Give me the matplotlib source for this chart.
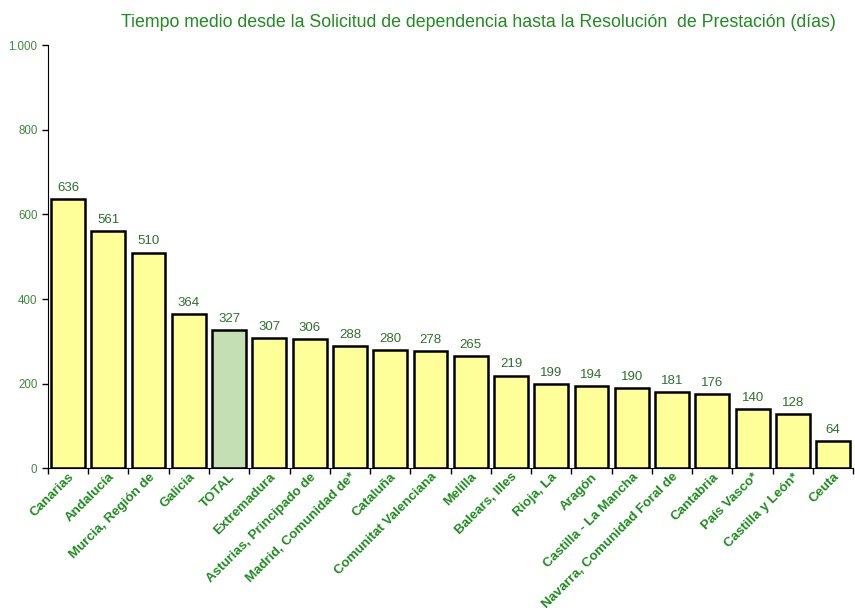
import matplotlib
matplotlib.use("Agg")
import matplotlib.pyplot as plt
import numpy as np
from matplotlib.ticker import FuncFormatter, FixedLocator

plt.rcParams["font.family"] = ["Liberation Sans", "DejaVu Sans"]

regions = ["Canarias", "Andalucía", "Murcia, Región de", "Galicia", "TOTAL",
           "Extremadura", "Asturias, Principado de", "Madrid, Comunidad de*",
           "Cataluña", "Comunitat Valenciana", "Melilla", "Balears, Illes",
           "Rioja, La", "Aragón", "Castilla - La Mancha",
           "Navarra, Comunidad Foral de", "Cantabria", "País Vasco*",
           "Castilla y León*", "Ceuta"]
days = [636, 561, 510, 364, 327, 307, 306, 288, 280, 278, 265, 219,
        199, 194, 190, 181, 176, 140, 128, 64]

GREEN = "#1e8c1e"
TICK_GREEN = "#3c8a3c"
VALUE_GREEN = "#2f6f2f"
BAR = "#ffff99"
TOTAL_BAR = "#c4dfb4"

fig = plt.figure(figsize=(8.55, 6.12), dpi=100)
ax = fig.add_axes([0.056, 0.235, 0.942, 0.691])

x = np.arange(len(regions))
colors = [TOTAL_BAR if r == "TOTAL" else BAR for r in regions]
ax.bar(x, days, width=0.84, color=colors, edgecolor="black", linewidth=1.8)

for xi, v in zip(x, days):
    ax.text(xi, v + 12, str(v), ha="center", va="bottom", fontsize=9.5,
            color=VALUE_GREEN)

ax.set_xlim(-0.5, len(regions) - 0.5)
ax.set_ylim(0, 1000)
ax.set_yticks([0, 200, 400, 600, 800, 1000])
ax.yaxis.set_major_formatter(FuncFormatter(lambda v, p: f"{int(v):,}".replace(",", ".")))
ax.tick_params(axis="y", labelsize=8.3, labelcolor=TICK_GREEN, length=4, width=1)

ax.xaxis.set_major_locator(FixedLocator(np.arange(-0.5, len(regions), 1.0)))
ax.tick_params(axis="x", which="major", length=4, width=1, labelbottom=False)
ax.set_xticks(x, minor=True)
ax.tick_params(axis="x", which="minor", length=0, pad=2)
ax.set_xticklabels(regions, minor=True, rotation=45, ha="right",
                   rotation_mode="anchor", fontsize=9.6, fontweight="bold",
                   color=GREEN)

for s in ["top", "right"]:
    ax.spines[s].set_visible(False)

fig.text(0.56, 0.963, "Tiempo medio desde la Solicitud de dependencia hasta la Resolución  de Prestación (días)",
         ha="center", va="center", fontsize=12.8, color=GREEN)

fig.savefig("out.png", dpi=100)
